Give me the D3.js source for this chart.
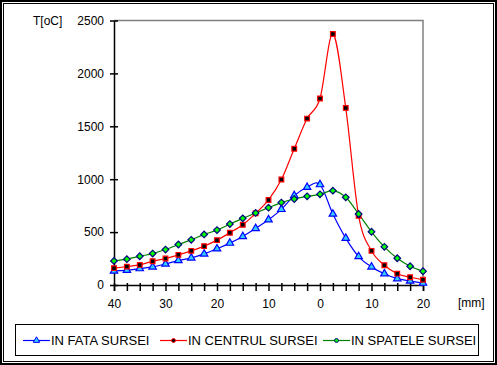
<!DOCTYPE html>
<html>
<head>
<meta charset="utf-8">
<script src="https://cdn.jsdelivr.net/npm/d3@7"></script>
<style>
  body { margin: 0; background: #fff; }
  svg text { font-family: Arial, "Liberation Sans", sans-serif; font-size: 12px; fill: #000; }
  svg .legend text { font-size: 13px; }
</style>
</head>
<body>
<div id="chart"></div>
<script>
// positions along the axis, -40 .. 20 mm every 2.5
var positions = d3.range(-40, 20.01, 2.5);
var tickLabels = ["40", "30", "20", "10", "0", "10", "20"];
var yTicks = [0, 500, 1000, 1500, 2000, 2500];
var seriesNames = ["IN FATA SURSEI", "IN CENTRUL SURSEI", "IN SPATELE SURSEI"];

var fata = [133, 140, 155, 171, 199, 231, 256, 294, 342, 396, 459, 535, 617, 715, 845, 924, 949,
            671, 443, 269, 171, 107, 60, 38, 18];
var centru = [159, 174, 190, 225, 250, 285, 323, 367, 424, 494, 570, 677, 804, 997, 1288, 1573, 1763,
              2373, 1674, 655, 323, 187, 107, 73, 50];
var spate = [228, 244, 272, 297, 335, 383, 427, 478, 519, 576, 630, 681, 731, 779, 813, 838, 857,
             892, 829, 671, 503, 361, 253, 177, 130];

var W = 497, H = 365;
var svg = d3.select("#chart").append("svg")
  .attr("width", W).attr("height", H);

// double frame
svg.append("rect").attr("x", 1).attr("y", 1).attr("width", W - 2).attr("height", H - 2)
  .attr("fill", "#fff").attr("stroke", "#000").attr("stroke-width", 2);
svg.append("rect").attr("x", 3.5).attr("y", 3.5).attr("width", W - 7).attr("height", H - 7)
  .attr("fill", "none").attr("stroke", "#000").attr("stroke-width", 1);

var x = d3.scaleLinear().domain([-40, 20]).range([114, 423]);
var y = d3.scaleLinear().domain([0, 2500]).range([285, 20.5]);

// plot frame (grey top/right)
svg.append("path")
  .attr("d", "M" + x(-40) + "," + y(2500) + "H" + x(20) + "V" + y(0))
  .attr("fill", "none").attr("stroke", "#808080").attr("stroke-width", 1.5);

// y axis
var yAxis = d3.axisLeft(y).tickValues(yTicks).tickSize(0).tickPadding(10).tickFormat(d3.format("d"));
var gy = svg.append("g").attr("transform", "translate(" + x(-40) + ",0)").call(yAxis);
gy.select(".domain").attr("stroke", "#000").attr("stroke-width", 1.5);
gy.selectAll(".tick text").attr("font-size", null).attr("fill", null);
gy.selectAll(".tick line").remove();
gy.selectAll(".tick").append("line")
  .attr("x1", -4).attr("x2", 4).attr("stroke", "#000").attr("stroke-width", 1.5);

// x axis
var xAxis = d3.axisBottom(x).tickValues(positions).tickSize(6).tickPadding(10)
  .tickFormat(function(d) {
    var i = [-40, -30, -20, -10, 0, 10, 20].indexOf(d);
    return i >= 0 ? tickLabels[i] : "";
  });
var gx = svg.append("g").attr("transform", "translate(0," + y(0) + ")").call(xAxis);
gx.select(".domain").attr("stroke", "#000").attr("stroke-width", 1.5);
gx.selectAll(".tick line").attr("y1", -2).attr("stroke", "#000").attr("stroke-width", 1.5);
gx.selectAll(".tick text").attr("font-size", null).attr("fill", null).attr("dy", "0.6em");

svg.append("text").attr("x", 33).attr("y", 25).text("T[oC]");
svg.append("text").attr("x", 458).attr("y", 307).text("[mm]");

var line = d3.line()
  .x(function(d, i) { return x(positions[i]); })
  .y(function(d) { return y(d); })
  .curve(d3.curveCardinal.tension(0));

var styles = [
  { data: fata, color: "#0000ff", symbol: d3.symbolTriangle, size: 24, rot: 0, fill: "#33ccff", stroke: "#0000ff" },
  { data: centru, color: "#ff0000", symbol: d3.symbolSquare, size: 22, rot: 0, fill: "#000", stroke: "#ff0000" },
  { data: spate, color: "#008000", symbol: d3.symbolSquare, size: 22, rot: 45, fill: "#00ff00", stroke: "#000080" }
];

styles.forEach(function(s) {
  svg.append("path").datum(s.data)
    .attr("d", line).attr("fill", "none")
    .attr("stroke", s.color).attr("stroke-width", 1.2);
});

styles.forEach(function(s) {
  svg.append("g").selectAll("path").data(s.data).enter().append("path")
    .attr("transform", function(d, i) {
      return "translate(" + x(positions[i]) + "," + y(d) + ") rotate(" + s.rot + ")";
    })
    .attr("d", d3.symbol().type(s.symbol).size(s.size))
    .attr("fill", s.fill).attr("stroke", s.stroke).attr("stroke-width", 1.2);
});

// legend
svg.append("rect").attr("x", 15.5).attr("y", 324.5).attr("width", 463).attr("height", 31)
  .attr("fill", "none").attr("stroke", "#000").attr("stroke-width", 1);

var legX = [23, 160, 323];
var leg = svg.append("g").attr("class", "legend").selectAll("g").data(styles).enter().append("g")
  .attr("transform", function(d, i) { return "translate(" + legX[i] + ",340.5)"; });
leg.append("line").attr("x1", 0).attr("x2", 27)
  .attr("stroke", function(d) { return d.color; }).attr("stroke-width", 1.2);
leg.append("path").attr("transform", "translate(13.5,0)")
  .attr("d", function(d, i) { return d3.symbol().type(i === 0 ? d3.symbolTriangle : d3.symbolCircle).size(i === 0 ? 18 : 12)(); })
  .attr("fill", function(d) { return d.fill; })
  .attr("stroke", function(d) { return d.stroke; }).attr("stroke-width", 1);
leg.append("text").attr("x", 28).attr("dy", "0.36em")
  .text(function(d, i) { return seriesNames[i]; });
</script>
</body>
</html>
